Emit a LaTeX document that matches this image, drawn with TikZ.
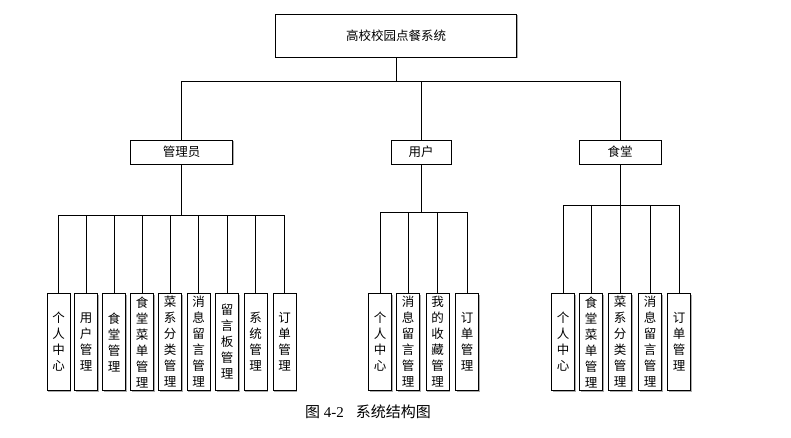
\documentclass[tikz,border=0pt]{standalone}
\usepackage{fontspec}
\setmainfont{Liberation Serif}
\newfontfamily\cjk{Noto Sans CJK SC}
\usetikzlibrary{shadows}
\tikzset{
  box/.style={draw=black, line width=0.8pt, fill=white, inner sep=0pt,
    general shadow={shadow xshift=1.3pt, shadow yshift=-1.3pt, fill=gray!65},
    font=\cjk\fontsize{12.5}{16}\selectfont, align=center},
  leaf/.style={box, minimum width=23pt, minimum height=97pt},
  conn/.style={draw=black, line width=0.8pt}
}
\begin{document}
\begin{tikzpicture}[x=1pt,y=-1pt]
\useasboundingbox (0,0) rectangle (791,437);
% top
\node[box, minimum width=241pt, minimum height=43pt] (top) at (396,35.5) {高校校园点餐系统};
% level 2
\node[box, minimum width=102pt, minimum height=24pt] (admin) at (181.5,152) {管理员};
\node[box, minimum width=60pt, minimum height=24pt] (user) at (421,152) {用户};
\node[box, minimum width=82pt, minimum height=24pt] (cant) at (620,152) {食堂};
\coordinate (b0) at (396,81.5);
\draw[conn] (top.south) -- (top.south |- b0);
\draw[conn] (admin.north) |- (cant.north |- b0) -- (cant.north);
\draw[conn] (user.north) -- (user.north |- b0);
% admin leaves
\node[leaf] (a1) at (58.5,342) {个\\人\\中\\心};
\node[leaf] (a2) at (86,342) {用\\户\\管\\理};
\node[leaf] (a3) at (114,342) {食\\堂\\管\\理};
\node[leaf] (a4) at (142,342) {食\\堂\\菜\\单\\管\\理};
\node[leaf] (a5) at (170,342) {菜\\系\\分\\类\\管\\理};
\node[leaf] (a6) at (198.5,342) {消\\息\\留\\言\\管\\理};
\node[leaf] (a7) at (227,342) {留\\言\\板\\管\\理};
\node[leaf] (a8) at (255.5,342) {系\\统\\管\\理};
\node[leaf] (a9) at (284.5,342) {订\\单\\管\\理};
\coordinate (ab) at (0,215);
\draw[conn] (admin.south) -- (admin.south |- ab);
\draw[conn] (a1.north) |- (a9.north |- ab) -- (a9.north);
\foreach \i in {2,...,8} \draw[conn] (a\i.north) -- (a\i.north |- ab);
% user leaves
\node[leaf] (u1) at (380,342) {个\\人\\中\\心};
\node[leaf] (u2) at (408,342) {消\\息\\留\\言\\管\\理};
\node[leaf] (u3) at (437.5,342) {我\\的\\收\\藏\\管\\理};
\node[leaf] (u4) at (467,342) {订\\单\\管\\理};
\coordinate (ub) at (0,212);
\draw[conn] (user.south) -- (user.south |- ub);
\draw[conn] (u1.north) |- (u4.north |- ub) -- (u4.north);
\foreach \i in {2,3} \draw[conn] (u\i.north) -- (u\i.north |- ub);
% canteen leaves
\node[leaf] (c1) at (563,342) {个\\人\\中\\心};
\node[leaf] (c2) at (591,342) {食\\堂\\菜\\单\\管\\理};
\node[leaf] (c3) at (620,342) {菜\\系\\分\\类\\管\\理};
\node[leaf] (c4) at (650,342) {消\\息\\留\\言\\管\\理};
\node[leaf] (c5) at (679,342) {订\\单\\管\\理};
\coordinate (cb) at (0,205);
\draw[conn] (cant.south) -- (cant.south |- cb);
\draw[conn] (c1.north) |- (c5.north |- cb) -- (c5.north);
\foreach \i in {2,3,4} \draw[conn] (c\i.north) -- (c\i.north |- cb);
% caption
\node[inner sep=0pt, font=\fontsize{15}{18}\selectfont] (cap) at (368,412) {{\cjk 图} 4-2\hspace{0.8em}{\cjk 系统结构图}};
\end{tikzpicture}
\end{document}
